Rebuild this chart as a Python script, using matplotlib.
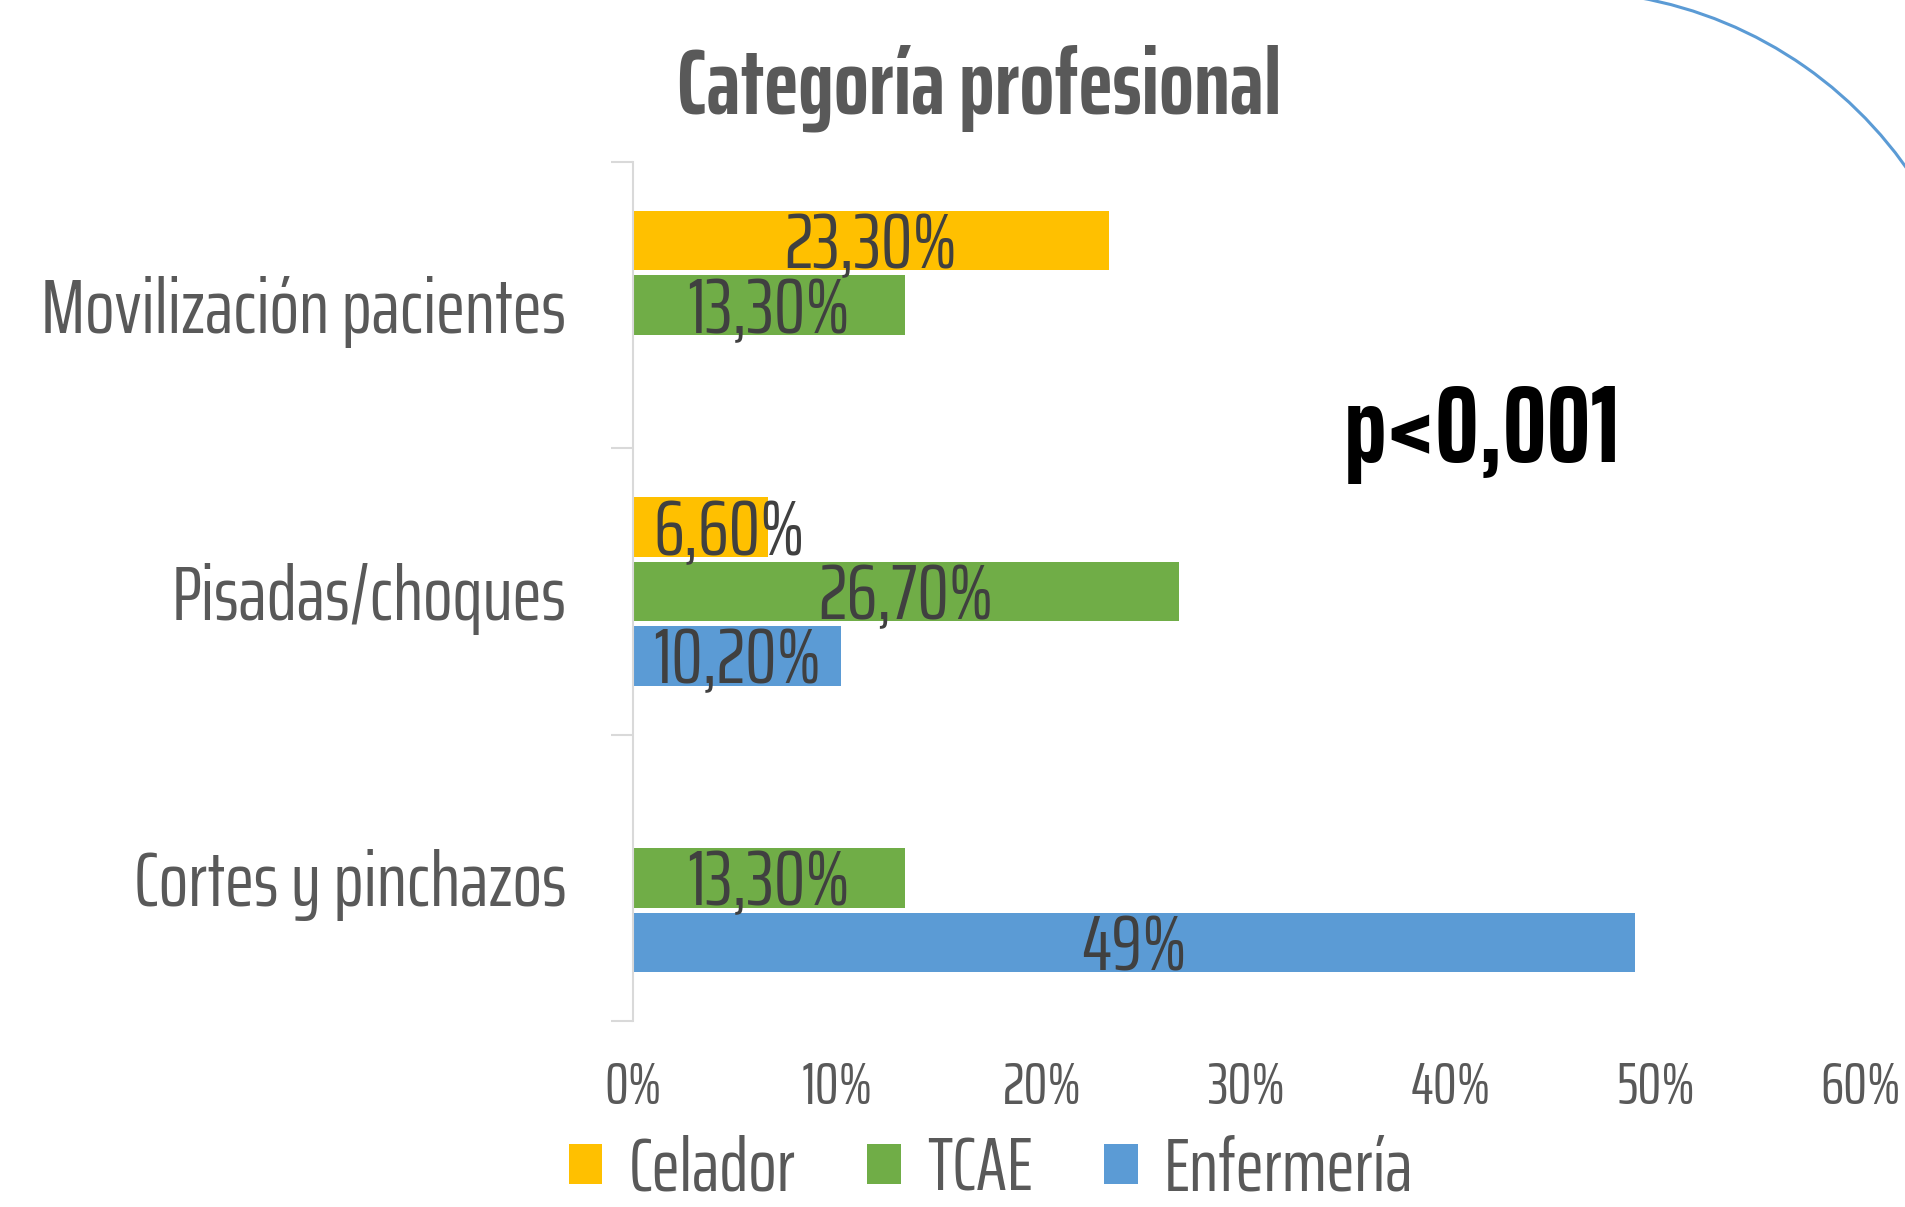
import numpy as np
import matplotlib
matplotlib.use("Agg")
import matplotlib.pyplot as plt
from matplotlib.patches import Arc

categories = ["Cortes y pinchazos", "Pisadas/choques", "Movilización pacientes"]
series = ["Celador", "TCAE", "Enfermería"]
celador = [np.nan, 6.6, 23.3]
tcae = [13.3, 26.7, 13.3]
enfermeria = [49.0, 10.2, np.nan]
value_labels = {
    "Celador": ["", "6,60%", "23,30%"],
    "TCAE": ["13,30%", "26,70%", "13,30%"],
    "Enfermería": ["49%", "10,20%", ""],
}
xticks = [0, 10, 20, 30, 40, 50, 60]
colors = ["#FFC000", "#70AD47", "#5B9BD5"]

plt.rcParams["font.family"] = ["Saira ExtraCondensed", "DejaVu Sans"]
grey = "#595959"

fig = plt.figure(figsize=(19.06, 12.07), dpi=100)
ax = fig.add_axes([0.332, 0.154, 0.644, 0.712])

y = np.arange(len(categories))
offsets = [0.225, 0.0, -0.225]
h = 0.208
lab_size = 57
for vals, name, col, off in zip([celador, tcae, enfermeria], series, colors, offsets):
    v = np.array(vals, dtype=float)
    ax.barh(y + off, np.nan_to_num(v), height=h, color=col, label=name)
    for yi, vi, txt in zip(y, v, value_labels[name]):
        if np.isnan(vi) or not txt:
            continue
        # small bars: keep the label inside the plot area
        if vi < 8:
            xpos, ha = 1.0, "left"
        else:
            xpos, ha = vi / 2, "center"
        ax.annotate(txt, (xpos, yi + off), xytext=(0, -lab_size * 0.35),
                    textcoords="offset points", ha=ha, va="baseline",
                    fontsize=lab_size, color="#404040")

ax.set_xlim(0, 60)
ax.set_ylim(-0.5, 2.5)
ax.set_xticks(xticks)
ax.set_xticklabels([f"{t}%" for t in xticks], fontsize=43, color=grey)
ax.tick_params(axis="x", length=0, pad=28)
ax.set_yticks([-0.5, 0.5, 1.5, 2.5])
ax.set_yticklabels([])
ax.tick_params(axis="y", which="major", length=16, width=1.5, color="#D9D9D9")
ax.set_yticks(y, minor=True)
ax.set_yticklabels(categories, minor=True, fontsize=56, color=grey)
ax.tick_params(axis="y", which="minor", length=0, pad=48)
for s in ["top", "right", "bottom"]:
    ax.spines[s].set_visible(False)
ax.spines["left"].set_color("#D9D9D9")
ax.spines["left"].set_linewidth(1.5)

fig.text(0.514, 0.906, "Categoría profesional", ha="center", va="baseline",
         fontsize=66, fontweight="bold", color=grey)
ax.text(0.692, 0.651, "p<0,001", transform=ax.transAxes, ha="center", va="baseline",
        fontsize=79, fontweight="bold", color="black")

ax.legend(loc="center", bbox_to_anchor=(0.52, 0.031), bbox_transform=fig.transFigure,
          ncol=3, frameon=False, fontsize=54, labelcolor=grey,
          handlelength=0.45, handleheight=0.45, handletextpad=0.35, columnspacing=0.95)

# decorative arc at the top right
arc = Arc((1565, 1207 - 409), 836, 836, theta1=30, theta2=80, color="#5B9BD5",
          lw=2.2, transform=None)
fig.add_artist(arc)

fig.savefig("out.png", dpi=100)
